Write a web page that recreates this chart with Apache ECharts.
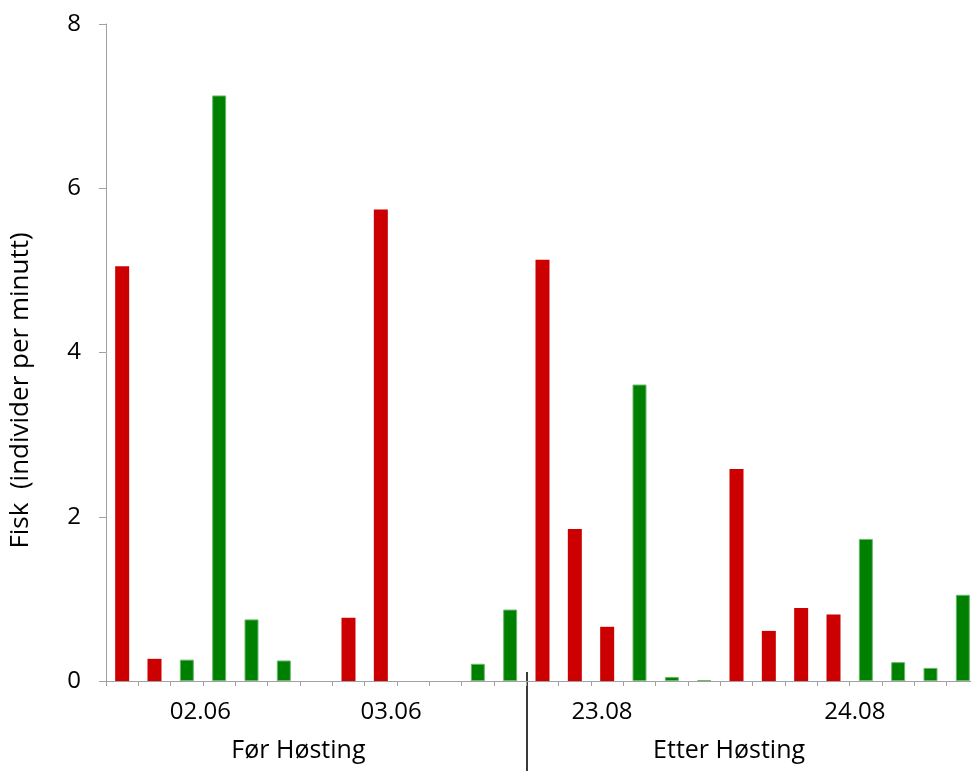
<!DOCTYPE html>
<html>
<head>
<meta charset="utf-8">
<script src="https://cdn.jsdelivr.net/npm/echarts@6/dist/echarts.min.js"></script>
<style>
html, body { margin: 0; padding: 0; background: #ffffff; }
#chart { width: 971px; height: 771px; }
</style>
</head>
<body>
<div id="chart"></div>
<script>
// ---- data ----
const categories = ['1','2','3','4','5','6','7','8','9','10','11','12','13','14','15','16','17','18','19','20','21','22','23','24','25','26','27'];
const redValues = [5.05, 0.27, null, null, null, null, null, 0.77, 5.74, null, null, null, null,
                   5.13, 1.85, 0.66, null, null, null, 2.58, 0.61, 0.89, 0.81, null, null, null, null];
const greenValues = [null, null, 0.26, 7.13, 0.75, 0.25, null, null, null, null, null, 0.21, 0.87,
                     null, null, null, 3.61, 0.05, 0.01, null, null, null, null, 1.73, 0.23, 0.16, 1.05];
const yMin = 0, yMax = 8, yInterval = 2;
const dateLabels = ['02.06', '03.06', '23.08', '24.08'];
const periodLabels = ['Før Høsting', 'Etter Høsting'];
const periodBoundary = 13;          // first category after harvest
const yTitle = 'Fisk  (individer per minutt)';

// ---- layout (label centres in category units from the axis start) ----
const dateLabelAt = [2.92, 8.82, 15.34, 23.16];
const periodLabelAt = [5.95, 19.27];

const FONT = '"Open Sans", "Noto Sans", sans-serif';
const chart = echarts.init(document.getElementById('chart'), null, { renderer: 'canvas' });

chart.setOption({
  animation: false,
  backgroundColor: '#ffffff',
  grid: { left: 106, top: 24, width: 873, height: 657, outerBoundsMode: 'none', containLabel: false },
  xAxis: {
    type: 'category',
    data: categories,
    boundaryGap: true,
    axisLine: { lineStyle: { color: '#a0a0a0', width: 1 } },
    axisTick: { show: true, interval: 0, length: 5, inside: false, lineStyle: { color: '#a0a0a0' } },
    axisLabel: { show: false },
    splitLine: { show: false }
  },
  yAxis: {
    type: 'value',
    min: yMin, max: yMax, interval: yInterval,
    axisLine: { show: true, lineStyle: { color: '#a0a0a0', width: 1 } },
    axisTick: { show: true, length: 7, lineStyle: { color: '#a0a0a0' } },
    axisLabel: { margin: 25, color: '#000000', fontSize: 24, fontFamily: FONT },
    splitLine: { show: false }
  },
  series: [
    {
      name: 'Rød', type: 'bar', data: redValues, barWidth: 14, barGap: '-100%',
      itemStyle: { color: '#cc0000' }
    },
    {
      name: 'Grønn', type: 'bar', data: greenValues, barWidth: 14, barGap: '-100%',
      itemStyle: { color: '#008000', borderColor: '#6cb86c', borderWidth: 1 }
    }
  ]
});

// ---- category-axis labels, period labels, divider and y title ----
function addAnnotations() {
  const c0 = chart.convertToPixel({ xAxisIndex: 0 }, 0);
  const c1 = chart.convertToPixel({ xAxisIndex: 0 }, 1);
  const w = c1 - c0;
  const left = c0 - w / 2;
  const ux = u => left + u * w;
  const y0 = chart.convertToPixel({ yAxisIndex: 0 }, yMin);
  const yTop = chart.convertToPixel({ yAxisIndex: 0 }, yMax);
  const H = chart.getHeight();
  const elements = [];
  dateLabels.forEach((t, i) => {
    elements.push({
      type: 'text', x: ux(dateLabelAt[i]), y: y0 + 31,
      style: { text: t, font: '24px ' + FONT, fill: '#000000', textAlign: 'center', textVerticalAlign: 'middle' }
    });
  });
  periodLabels.forEach((t, i) => {
    elements.push({
      type: 'text', x: ux(periodLabelAt[i]), y: y0 + 70,
      style: { text: t, font: '25px ' + FONT, fill: '#000000', textAlign: 'center', textVerticalAlign: 'middle' }
    });
  });
  const bx = Math.round(ux(periodBoundary)) + 1;
  elements.push({
    type: 'line',
    shape: { x1: bx, y1: y0 - 9, x2: bx, y2: H },
    style: { stroke: '#3a3a3a', lineWidth: 2 }
  });
  elements.push({
    type: 'text', x: left - 85, y: (y0 + yTop) / 2 + 38, rotation: Math.PI / 2,
    style: { text: yTitle, font: '26px ' + FONT, fill: '#000000', textAlign: 'center', textVerticalAlign: 'middle' }
  });
  chart.setOption({ graphic: elements });
}
addAnnotations();
</script>
</body>
</html>
